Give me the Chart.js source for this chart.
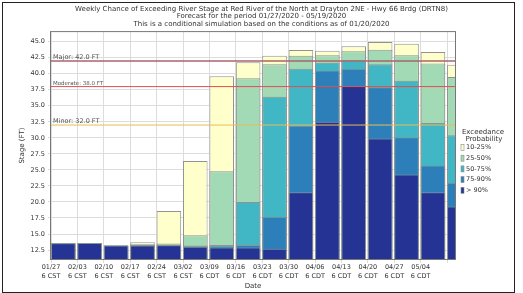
<!DOCTYPE html>
<html>
<head>
<meta charset="utf-8">
<script src="https://cdn.jsdelivr.net/npm/chart.js@4.4.1/dist/chart.umd.min.js"></script>
<style>
  html, body { margin: 0; padding: 0; background: #fff; }
  #wrap { position: relative; width: 523px; height: 293px; }
  #frame { position: absolute; left: 2px; top: 2px; width: 511px; height: 289px; border: 1px solid #222; pointer-events: none; }
</style>
</head>
<body>
<div id="wrap">
  <canvas id="stageChart" width="523" height="293"></canvas>
  <div id="frame"></div>
</div>
<script>
// Week start dates and time zone line of each tick label
const weeks = ['01/27', '02/03', '02/10', '02/17', '02/24', '03/02', '03/09', '03/16',
  '03/23', '03/30', '04/06', '04/13', '04/20', '04/27', '05/04', '05/11'];
const zones = ['6 CST', '6 CST', '6 CST', '6 CST', '6 CST', '6 CST', '6 CDT', '6 CDT',
  '6 CDT', '6 CDT', '6 CDT', '6 CDT', '6 CDT', '6 CDT', '6 CDT', '6 CDT'];

// Stage (FT) reached at each exceedance probability, per week
const stageOver90 = [13.55, 13.6, 13.2, 13.2, 13.25, 13.0, 12.9, 12.9, 12.7, 21.5, 32.5, 38.1, 29.9, 24.3, 21.5, 19.3];
const stage75to90 = [13.55, 13.6, 13.2, 13.25, 13.3, 13.1, 13.1, 13.3, 17.7, 31.9, 40.5, 40.8, 37.9, 30.1, 25.7, 23.0];
const stage50to75 = [13.55, 13.6, 13.2, 13.3, 13.35, 13.2, 13.3, 20.0, 36.4, 40.8, 41.7, 42.1, 41.5, 38.9, 32.3, 30.4];
const stage25to50 = [13.55, 13.6, 13.2, 13.4, 13.5, 14.8, 24.8, 39.3, 41.5, 42.8, 42.9, 43.5, 43.75, 42.9, 41.6, 39.5];
const stage10to25 = [13.55, 13.6, 13.2, 13.7, 18.6, 26.4, 39.6, 41.8, 42.8, 43.7, 43.6, 44.3, 44.95, 44.7, 43.4, 41.4];

// Flood categories
const floodNames = ['Major', 'Moderate', 'Minor'];
const floodStages = [42.0, 38.0, 32.0];
const floodColors = ['#a8646c', '#e05050', '#e8bc58'];
const floodWidths = [1.6, 1, 1];
const floodFontSizes = [6.5, 5.5, 6.5];

const BAR_WIDTH = 0.93; // fraction of a week, bars start at the tick

function toPoints(values) {
  return values.map((v, i) => ({ x: i + BAR_WIDTH / 2, y: v }));
}

function barSet(label, values, color) {
  return {
    label: label,
    data: toPoints(values),
    backgroundColor: color,
    borderColor: '#929292',
    borderWidth: 1,
    categoryPercentage: 1,
    barPercentage: BAR_WIDTH,
    clip: 0
  };
}

// first dataset is drawn last (on top)
const datasets = [
  barSet('> 90%', stageOver90, '#253494'),
  barSet('75-90%', stage75to90, '#2c7fb8'),
  barSet('50-75%', stage50to75, '#41b6c4'),
  barSet('25-50%', stage25to50, '#a1dab4'),
  barSet('10-25%', stage10to25, '#ffffcc')
];

// Flood stage lines with their labels
const floodLinesPlugin = {
  id: 'floodLines',
  afterDatasetsDraw(chart) {
    const { ctx, chartArea, scales } = chart;
    ctx.save();
    floodStages.forEach((stage, i) => {
      const y = scales.y.getPixelForValue(stage);
      ctx.strokeStyle = floodColors[i];
      ctx.lineWidth = floodWidths[i];
      ctx.beginPath();
      ctx.moveTo(chartArea.left, y);
      ctx.lineTo(chartArea.right, y);
      ctx.stroke();
      ctx.fillStyle = '#555';
      ctx.font = floodFontSizes[i] + 'px "DejaVu Sans"';
      ctx.textAlign = 'left';
      ctx.textBaseline = 'alphabetic';
      ctx.fillText(floodNames[i] + ': ' + stage.toFixed(1) + ' FT', chartArea.left + 2, y - 2);
    });
    // plot frame
    ctx.strokeStyle = '#777';
    ctx.lineWidth = 1;
    ctx.strokeRect(chartArea.left - 0.5, chartArea.top - 0.5,
      chartArea.right - chartArea.left + 1, chartArea.bottom - chartArea.top + 1);
    ctx.restore();
  }
};

// Legend at the right of the plot
const sideLegendPlugin = {
  id: 'sideLegend',
  afterDraw(chart) {
    const { ctx, chartArea } = chart;
    const x = chartArea.right + 6;
    ctx.save();
    ctx.fillStyle = '#333';
    ctx.font = '7px "DejaVu Sans"';
    ctx.textAlign = 'center';
    ctx.textBaseline = 'middle';
    ctx.fillText('Exceedance', x + 22, 132);
    ctx.fillText('Probability', x + 23, 139.5);
    ctx.textAlign = 'left';
    ctx.font = '6.5px "DejaVu Sans"';
    const items = chart.data.datasets.slice().reverse();
    items.forEach((ds, i) => {
      const y = 147.5 + i * 10.7;
      ctx.fillStyle = ds.backgroundColor;
      ctx.fillRect(x, y - 3, 3, 6);
      ctx.strokeStyle = '#8c8c8c';
      ctx.lineWidth = 0.6;
      ctx.strokeRect(x, y - 3, 3, 6);
      ctx.fillStyle = '#333';
      ctx.fillText(ds.label, x + 5, y);
    });
    ctx.restore();
  }
};

Chart.defaults.font.family = '"DejaVu Sans", sans-serif';
Chart.defaults.color = '#333';

const ctx = document.getElementById('stageChart').getContext('2d');
const stageChart = new Chart(ctx, {
  type: 'bar',
  data: { datasets: datasets },
  options: {
    responsive: false,
    animation: false,
    devicePixelRatio: 1,
    layout: { padding: 0 },
    plugins: {
      legend: { display: false },
      tooltip: { enabled: false },
      title: {
        display: true,
        text: [
          'Weekly Chance of Exceeding River Stage at Red River of the North at Drayton 2NE - Hwy 66 Brdg (DRTN8)',
          'Forecast for the period 01/27/2020 - 05/19/2020',
          'This is a conditional simulation based on the conditions as of 01/20/2020'
        ],
        color: '#333',
        font: { size: 7, weight: 'normal', lineHeight: 1.1 },
        padding: { top: 5, bottom: 4 }
      }
    },
    scales: {
      x: {
        type: 'linear',
        stacked: true,
        offset: false,
        min: 0,
        max: 15.3,
        grid: { offset: false, color: '#dcdcdc', tickLength: 4 },
        border: { display: false },
        ticks: {
          stepSize: 1,
          includeBounds: false,
          autoSkip: false,
          maxRotation: 0,
          padding: 0,
          color: '#333',
          font: { size: 6.5, lineHeight: 1.38 },
          callback: (value) => {
            const i = Math.round(value);
            if (i >= weeks.length - 1) return '';
            return [weeks[i], zones[i]];
          }
        },
        title: {
          display: true,
          text: 'Date',
          color: '#333',
          font: { size: 7, lineHeight: 1.2 },
          padding: { top: 0, bottom: 2.8 }
        },
        afterFit: (scale) => { scale.height = 34; }
      },
      y: {
        type: 'linear',
        stacked: false,
        beginAtZero: false,
        min: 11.1,
        max: 46.5,
        grid: { color: '#dcdcdc', tickLength: 3 },
        border: { display: false },
        ticks: {
          stepSize: 2.5,
          includeBounds: false,
          padding: 3,
          color: '#333',
          font: { size: 6.5 },
          callback: (value) => value.toFixed(1)
        },
        title: {
          display: true,
          text: 'Stage (FT)',
          color: '#333',
          font: { size: 7, lineHeight: 1.2 },
          padding: { top: 17.8, bottom: 0 }
        },
        afterFit: (scale) => { scale.width = 51; }
      },
      // empty axis that keeps room for the legend on the right
      legendSpace: {
        type: 'linear',
        position: 'right',
        min: 0,
        max: 1,
        grid: { display: false },
        border: { display: false },
        ticks: { display: false },
        afterFit: (scale) => { scale.width = 68; }
      }
    }
  },
  plugins: [floodLinesPlugin, sideLegendPlugin]
});
</script>
</body>
</html>
